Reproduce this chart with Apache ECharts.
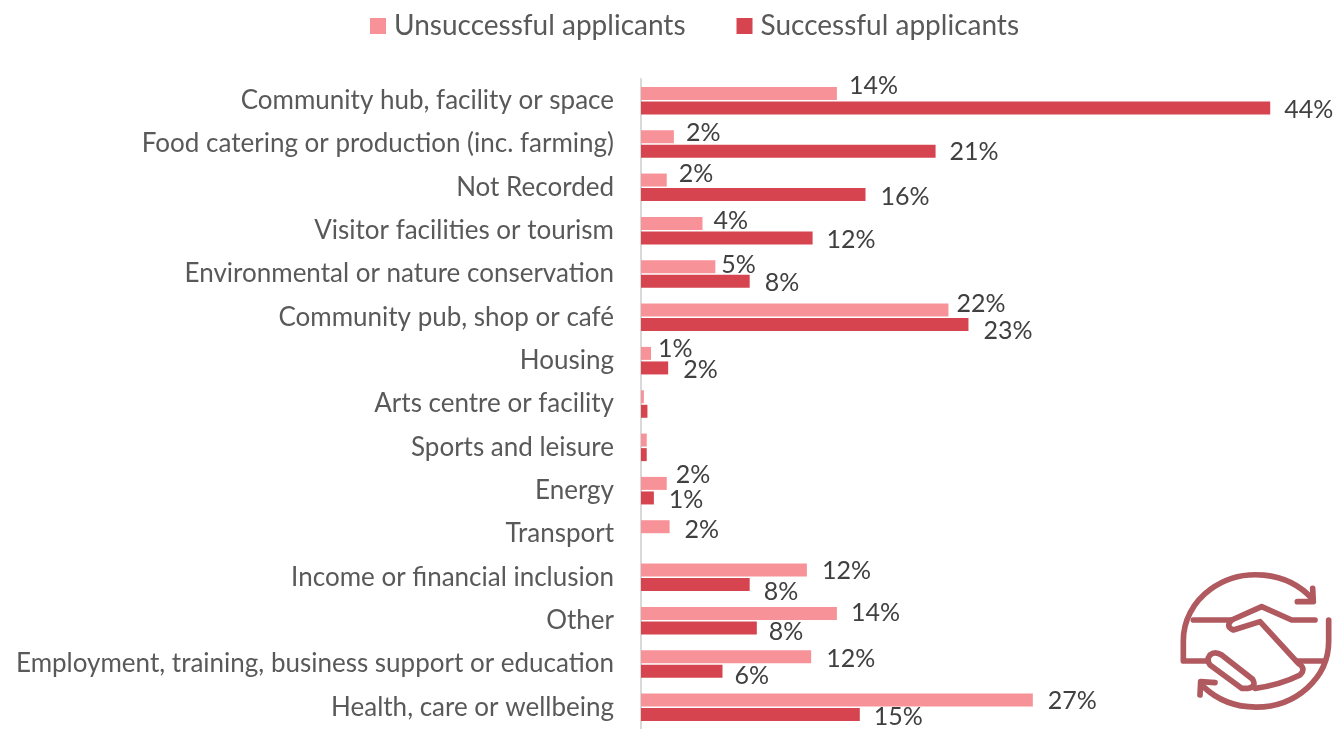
<!DOCTYPE html>
<html><head><meta charset="utf-8">
<style>html,body{margin:0;padding:0;background:#fff}#c{width:1337px;height:729px}</style>
<script src="https://cdn.jsdelivr.net/npm/echarts@6/dist/echarts.min.js"></script>
</head><body><div id="c"></div>
<script>
const categories = ["Community hub, facility or space","Food catering or production (inc. farming)","Not Recorded","Visitor facilities or tourism","Environmental or nature conservation","Community pub, shop or café","Housing","Arts centre or facility","Sports and leisure","Energy","Transport","Income or financial inclusion","Other","Employment, training, business support or education","Health, care or wellbeing"];
const unsuccessful = [13.7,2.3,1.8,4.3,5.2,21.5,0.7,0.2,0.4,1.8,2.0,11.6,13.7,11.9,27.4];
const successful = [44,20.6,15.7,12,7.6,22.9,1.9,0.45,0.4,0.9,null,7.6,8.1,5.7,15.3];
const unsuccessfulLabels = ["14%","2%","2%","4%","5%","22%","1%","","","2%","2%","12%","14%","12%","27%"];
const successfulLabels = ["44%","21%","16%","12%","8%","23%","2%","","","1%","","8%","8%","6%","15%"];
// label nudges [dx, dy] from the bar end
const unsuccessfulNudge = [[12,-7],[12,-4],[12,-6],[11,-2],[6,-2],[8,-6],[7,-4],[0,0],[0,0],[9,-8],[15,3],[15,1],[14,0],[15,2],[15,1]];
const successfulNudge = [[14,2],[14,1],[15,2],[14,2],[15,2],[15,6],[15,2],[0,0],[0,0],[15,2],[0,0],[14,7],[12,4],[12,5],[14,2]];

const FONT = "Lato";
function makeData(vals, labels, nudge){
  return vals.map((v,i)=>({value:v,label:{formatter:labels[i]||"",offset:nudge[i]}}));
}
const labelBase = {show:true,position:"right",distance:0,fontFamily:FONT,fontSize:25,color:"#404040"};
const iconColor = "#b05a60";
const iconStroke = {stroke:iconColor,lineWidth:17,fill:null,lineCap:"round",lineJoin:"round"};
const iconPaths = [
 "M458 118 A218 197 0 0 0 70 244 L70 303 L145 303",
 "M458 85 L460 125 L412 125",
 "M100 180 L215 180 L305 140 L395 180 L465 180",
 "M215 180 Q195 200 220 210 L300 185 L415 310 Q440 325 420 345 Q360 375 285 385",
 "M506 180 L506 244 A218 197 0 0 1 130 380",
 "M120 405 L122 365 L165 368",
 "M410 303 L490 303",
 "M150 285 Q165 272 185 285 L278 358 Q290 380 265 385 L245 385 L150 315 Q138 300 150 285"
];
iconPaths.forEach((p,i)=>echarts.graphic.registerShape("iconPart"+i, echarts.graphic.extendPath(p,{})));
const chart = echarts.init(document.getElementById("c"),null,{renderer:"canvas"});
chart.setOption({
 animation:false,
 backgroundColor:"#fff",
 legend:{top:7,left:365,itemWidth:16,itemHeight:16,itemGap:51,icon:"rect",
   textStyle:{fontFamily:FONT,fontSize:28,color:"#595959",padding:[0,0,0,3]},
   data:["Unsuccessful applicants","Successful applicants"]},
 grid:{left:641,top:79,width:657.8,height:651,containLabel:false},
 xAxis:{type:"value",min:0,max:46,show:false},
 yAxis:{type:"category",inverse:true,data:categories,
   axisLine:{show:true,lineStyle:{color:"#d9d9d9",width:2}},axisTick:{show:false},splitLine:{show:false},
   axisLabel:{margin:27,fontFamily:FONT,fontSize:26,color:"#595959"}},
 series:[
  {name:"Unsuccessful applicants",type:"bar",barWidth:13,barGap:"12%",itemStyle:{color:"#f79298"},
   label:labelBase,data:makeData(unsuccessful,unsuccessfulLabels,unsuccessfulNudge)},
  {name:"Successful applicants",type:"bar",barWidth:13,itemStyle:{color:"#d5444f"},
   label:labelBase,data:makeData(successful,successfulLabels,successfulNudge)}
 ],
 graphic:[{type:"group",x:1160,y:560,scaleX:1/3,scaleY:1/3,silent:true,
   children:iconPaths.map((p,i)=>({type:"iconPart"+i,style:iconStroke}))}]
});
</script></body></html>
